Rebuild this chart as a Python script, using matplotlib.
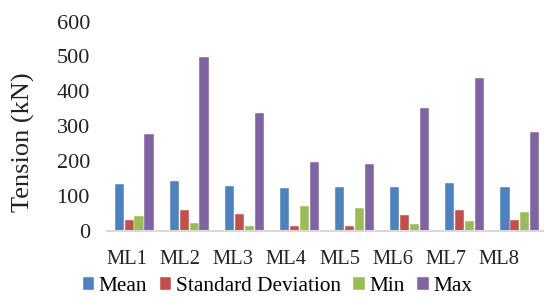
import numpy as np
import matplotlib.pyplot as plt

plt.rcParams['font.family'] = ['Liberation Serif', 'DejaVu Serif']

lines = ['ML1', 'ML2', 'ML3', 'ML4', 'ML5', 'ML6', 'ML7', 'ML8']
mean = [133, 143, 128, 124, 127, 126, 137, 127]
std_dev = [30, 61, 49, 14, 14, 45, 60, 32]
min_t = [43, 23, 14, 70, 66, 21, 27, 53]
max_t = [277, 498, 337, 198, 193, 351, 439, 284]

series = [('Mean', mean, '#4F81BD'),
          ('Standard Deviation', std_dev, '#C0504D'),
          ('Min', min_t, '#9BBB59'),
          ('Max', max_t, '#8064A2')]

fig = plt.figure(figsize=(5.44, 2.99), dpi=100)
ax = fig.add_axes([0.196, 0.228, 0.81, 0.70])

x = np.arange(len(lines))
w = 0.17
for i, (name, vals, col) in enumerate(series):
    ax.bar(x + (i - 1.5) * 0.18, vals, w, color=col, label=name,
           edgecolor='white', linewidth=0.3)

ax.set_xlim(-0.5, len(lines) - 0.5)
ax.set_ylim(0, 600)
ax.set_yticks(range(0, 601, 100))
# category labels in the original sit slightly tighter than the bar groups
ax.set_xticks(x * 0.964 - 0.127)
ax.set_xticklabels(lines)
ax.tick_params(axis='both', length=0, labelsize=16, colors='#222222')
ax.tick_params(axis='x', labelsize=14.8, pad=14)
ax.tick_params(axis='y', pad=12)
ax.set_ylabel('Tension (kN)', fontsize=19, color='#222222')
ax.yaxis.set_label_coords(-0.162, 0.425)
for s in ['top', 'right', 'left']:
    ax.spines[s].set_visible(False)
ax.spines['bottom'].set_color('#D9D9D9')
ax.spines['bottom'].set_linewidth(1.5)

fig.legend(loc='lower center', bbox_to_anchor=(0.51, -0.055), ncol=4, frameon=False,
           fontsize=15.3, handlelength=0.55, handleheight=0.55, handletextpad=0.2,
           columnspacing=0.6)

fig.savefig('out.png', dpi=100)
